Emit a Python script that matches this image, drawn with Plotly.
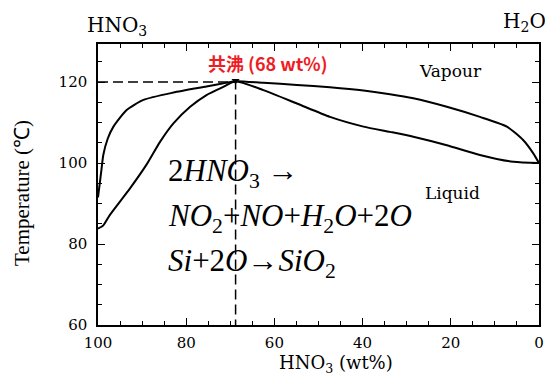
import plotly.graph_objects as go

# ---- data ----
vapour_x = [100, 99.6, 99.2, 98.8, 97.8, 96.5, 93.5, 89.7, 82.9, 75.4, 71.0, 68.8,
            62.5, 54.9, 47.4, 39.8, 33.8, 28.5, 20.9, 13.4, 7.3, 3.6, 1.3, 0]
vapour_T = [91.5, 95.0, 98.5, 102.0, 106.0, 109.0, 113.1, 115.6, 117.4, 118.9, 119.8, 120.2,
            119.8, 119.3, 118.7, 117.9, 117.0, 116.0, 113.9, 111.4, 109.0, 105.7, 102.4, 100.0]

liquid_x = [100, 98.8, 97.3, 92.7, 89.0, 85.9, 82.9, 79.1, 75.4, 71.6, 68.8,
            62.5, 54.9, 47.4, 39.8, 33.8, 28.5, 20.9, 13.4, 5.8, 0]
liquid_T = [83.8, 84.6, 87.2, 93.8, 99.6, 105.3, 109.8, 113.9, 116.8, 118.8, 120.2,
            118.0, 114.7, 111.4, 109.0, 107.7, 106.5, 104.4, 102.0, 100.3, 100.0]

azeo_x = 68.8
azeo_T = 120.0
azeo_label = "共沸 (68 wt%)"

x_ticks = [100, 80, 60, 40, 20, 0]
y_ticks = [60, 80, 100, 120]

equations = ["2<i>HNO</i><sub>3</sub> →",
             "<i>NO</i><sub>2</sub>+<i>NO</i>+<i>H</i><sub>2</sub><i>O</i>+2<i>O</i>",
             "<i>Si</i>+2<i>O</i>→<i>SiO</i><sub>2</sub>"]

# ---- layout geometry ----
W, H = 545, 375
L, R, T, B = 98, 539, 44, 325


def px(xp):
    return (xp - L) / (R - L)


def py(yp):
    return (B - yp) / (B - T)


serif = "DejaVu Serif, serif"
times = "Liberation Serif, Times New Roman, Times, serif"

fig = go.Figure()

fig.add_trace(go.Scatter(x=vapour_x, y=vapour_T, mode="lines",
                         line=dict(color="black", width=2, shape="spline", smoothing=0.6),
                         showlegend=False, hoverinfo="skip"))
fig.add_trace(go.Scatter(x=liquid_x, y=liquid_T, mode="lines",
                         line=dict(color="black", width=2, shape="spline", smoothing=0.6),
                         showlegend=False, hoverinfo="skip"))
# dashed guide lines to the azeotrope
fig.add_trace(go.Scatter(x=[100, azeo_x, azeo_x], y=[azeo_T, azeo_T, 60], mode="lines",
                         line=dict(color="black", width=1.5, dash="10px,5px"),
                         showlegend=False, hoverinfo="skip"))
fig.add_trace(go.Scatter(x=[azeo_x], y=[azeo_T + 0.3], mode="markers",
                         marker=dict(symbol="triangle-down", size=7, color="black"),
                         showlegend=False, hoverinfo="skip"))

axis_common = dict(showgrid=False, zeroline=False, showline=True, linecolor="black",
                   linewidth=1.5, mirror="ticks", ticks="inside", ticklen=7,
                   tickwidth=1.2, tickcolor="black", automargin=False,
                   tickfont=dict(family=serif, size=15, color="black"))

fig.update_xaxes(range=[100, 0], tickvals=x_ticks,
                 minor=dict(dtick=5, ticks="inside", ticklen=4, tickcolor="black", tickwidth=1.2),
                 ticklabelstandoff=3, **axis_common)
fig.update_yaxes(range=[60, 129.4], tickvals=y_ticks,
                 minor=dict(dtick=5, ticks="inside", ticklen=4, tickcolor="black", tickwidth=1.2),
                 ticklabelstandoff=6, **axis_common)


def note(text, x, y, size, family=serif, color="black", xanchor="center"):
    return dict(text=text, x=px(x), y=py(y), xref="paper", yref="paper",
                xanchor=xanchor, yanchor="middle", showarrow=False,
                font=dict(family=family, size=size, color=color))


ann = [
    note("HNO<sub>3</sub>", 117, 26, 20),
    note("H<sub>2</sub>O", 524, 22, 20),
    note("HNO<sub>3</sub> (wt%)", 336, 364, 18),
    note("Vapour", 450, 71, 17),
    note("Liquid", 452, 193, 17),
    note("<b>" + azeo_label + "</b>", 267, 63, 18,
         family="Noto Sans CJK SC, Noto Sans, sans-serif", color="#ee1c24"),
]
ann.append(dict(text="Temperature (℃)", x=px(22), y=py(193), xref="paper", yref="paper",
                xanchor="center", yanchor="middle", showarrow=False, textangle=-90,
                font=dict(family=times, size=21, color="black")))
eq_y = [173, 218, 263]
for txt, yy in zip(equations, eq_y):
    ann.append(note(txt, 166, yy, 31, family=times, xanchor="left"))

fig.update_layout(width=W, height=H, margin=dict(l=L, r=W - R, t=T, b=H - B, autoexpand=False),
                  plot_bgcolor="white", paper_bgcolor="white", annotations=ann)

fig.write_html("out.html", config={"displayModeBar": False},
               post_script="document.body.style.margin='0';document.body.style.padding='0';")
